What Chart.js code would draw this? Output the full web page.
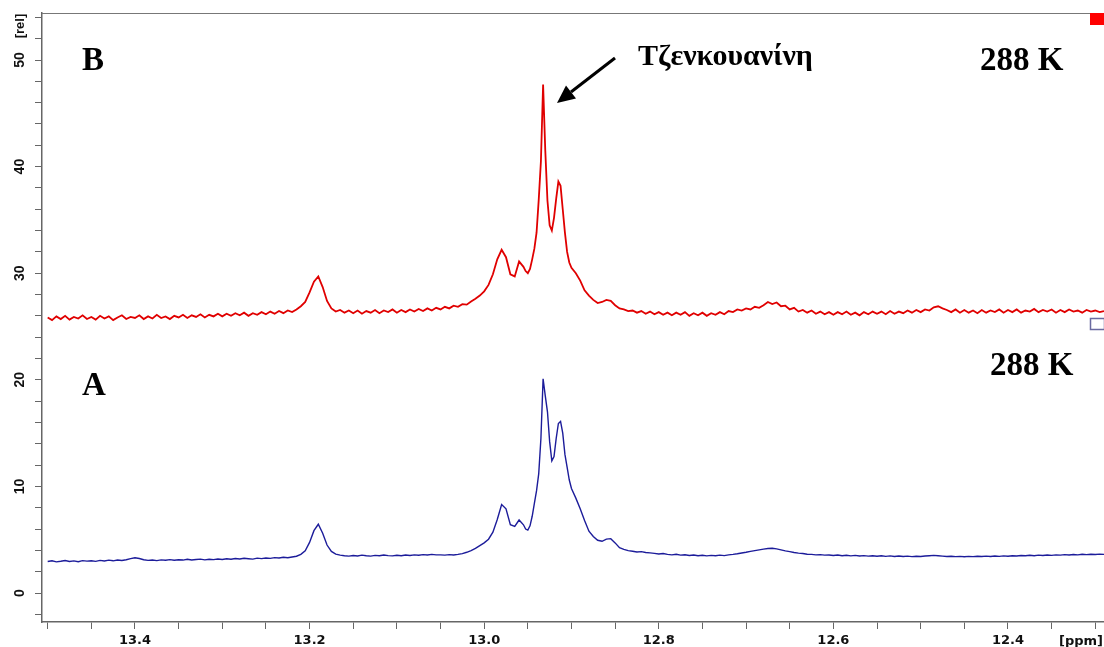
<!DOCTYPE html>
<html>
<head>
<meta charset="utf-8">
<script src="https://cdn.jsdelivr.net/npm/chart.js@4.4.4/dist/chart.umd.min.js"></script>
<style>
  html, body { margin: 0; padding: 0; background: #fff; }
  #wrap { width: 1104px; height: 647px; position: relative; }
</style>
</head>
<body>
<div id="wrap"><canvas id="spec"></canvas></div>
<script>
// chemical shift axis (ppm)
const ppm = [
  13.500, 13.495, 13.490, 13.485, 13.480, 13.475, 13.470, 13.465, 13.460, 13.455,
  13.450, 13.445, 13.440, 13.435, 13.430, 13.425, 13.420, 13.415, 13.410, 13.405,
  13.400, 13.395, 13.390, 13.385, 13.380, 13.375, 13.370, 13.365, 13.360, 13.355,
  13.350, 13.345, 13.340, 13.335, 13.330, 13.325, 13.320, 13.315, 13.310, 13.305,
  13.300, 13.295, 13.290, 13.285, 13.280, 13.275, 13.270, 13.265, 13.260, 13.255,
  13.250, 13.245, 13.240, 13.235, 13.230, 13.225, 13.220, 13.215, 13.210, 13.205,
  13.200, 13.195, 13.190, 13.185, 13.180, 13.175, 13.170, 13.165, 13.160, 13.155,
  13.150, 13.145, 13.140, 13.135, 13.130, 13.125, 13.120, 13.115, 13.110, 13.105,
  13.100, 13.095, 13.090, 13.085, 13.080, 13.075, 13.070, 13.065, 13.060, 13.055,
  13.050, 13.045, 13.040, 13.035, 13.030, 13.025, 13.020, 13.015, 13.010, 13.005,
  13.000, 12.995, 12.990, 12.985, 12.980, 12.975, 12.970, 12.965, 12.960, 12.955,
  12.9525, 12.9500, 12.9475, 12.9450, 12.9425, 12.9400, 12.9375, 12.9350, 12.9325, 12.9300,
  12.9275, 12.9250, 12.9225, 12.9200, 12.9175, 12.9150, 12.9125, 12.9100, 12.9075, 12.9050,
  12.9025,
  12.900, 12.895, 12.890, 12.885, 12.880, 12.875, 12.870, 12.865, 12.860, 12.855,
  12.850, 12.845, 12.840, 12.835, 12.830, 12.825, 12.820, 12.815, 12.810, 12.805,
  12.800, 12.795, 12.790, 12.785, 12.780, 12.775, 12.770, 12.765, 12.760, 12.755,
  12.750, 12.745, 12.740, 12.735, 12.730, 12.725, 12.720, 12.715, 12.710, 12.705,
  12.700, 12.695, 12.690, 12.685, 12.680, 12.675, 12.670, 12.665, 12.660, 12.655,
  12.650, 12.645, 12.640, 12.635, 12.630, 12.625, 12.620, 12.615, 12.610, 12.605,
  12.600, 12.595, 12.590, 12.585, 12.580, 12.575, 12.570, 12.565, 12.560, 12.555,
  12.550, 12.545, 12.540, 12.535, 12.530, 12.525, 12.520, 12.515, 12.510, 12.505,
  12.500, 12.495, 12.490, 12.485, 12.480, 12.475, 12.470, 12.465, 12.460, 12.455,
  12.450, 12.445, 12.440, 12.435, 12.430, 12.425, 12.420, 12.415, 12.410, 12.405,
  12.400, 12.395, 12.390, 12.385, 12.380, 12.375, 12.370, 12.365, 12.360, 12.355,
  12.350, 12.345, 12.340, 12.335, 12.330, 12.325, 12.320, 12.315, 12.310, 12.305,
  12.300, 12.295, 12.290
];

// spectrum A (blue, lower trace)
const specA = [
  2.95, 3.02, 2.92, 2.98, 3.05, 2.96, 3.01, 2.94, 3.04, 2.99,
  3.03, 2.97, 3.06, 3.00, 3.08, 3.02, 3.10, 3.05, 3.12, 3.22,
  3.30, 3.24, 3.12, 3.06, 3.10, 3.04, 3.11, 3.07, 3.13, 3.08,
  3.12, 3.09, 3.16, 3.10, 3.14, 3.18, 3.11, 3.17, 3.13, 3.19,
  3.15, 3.21, 3.17, 3.24, 3.19, 3.26, 3.22, 3.18, 3.27, 3.23,
  3.29, 3.25, 3.32, 3.28, 3.35, 3.31, 3.38, 3.45, 3.62, 3.95,
  4.75, 5.85, 6.45, 5.60, 4.50, 3.90, 3.65, 3.55, 3.50, 3.46,
  3.52, 3.47, 3.55, 3.50, 3.46, 3.53, 3.49, 3.56, 3.51, 3.48,
  3.54, 3.50, 3.57, 3.52, 3.58, 3.54, 3.60, 3.56, 3.62, 3.58,
  3.58, 3.55, 3.60, 3.57, 3.62, 3.70, 3.82, 3.98, 4.18, 4.45,
  4.70, 5.05, 5.70, 6.90, 8.30, 7.90, 6.40, 6.25, 6.85, 6.40,
  6.00, 5.90, 6.30, 7.20, 8.40, 9.60, 11.2, 14.5, 20.1, 18.5,
  17.0, 14.2, 12.4, 12.8, 14.5, 15.9, 16.1, 15.0, 13.0, 11.8,
  10.6,
  9.80, 8.90, 7.90, 6.80, 5.80, 5.30, 4.95, 4.85, 5.05, 5.10,
  4.70, 4.25, 4.10, 3.98, 3.92, 3.85, 3.88, 3.80, 3.76, 3.72,
  3.66, 3.70, 3.62, 3.58, 3.63, 3.55, 3.59, 3.52, 3.57, 3.50,
  3.54, 3.48, 3.53, 3.49, 3.55, 3.51, 3.58, 3.62, 3.68, 3.75,
  3.82, 3.90, 3.98, 4.05, 4.12, 4.18, 4.20, 4.14, 4.05, 3.95,
  3.88, 3.80, 3.74, 3.70, 3.64, 3.62, 3.58, 3.60, 3.55, 3.57,
  3.52, 3.56, 3.50, 3.54, 3.48, 3.53, 3.47, 3.51, 3.46, 3.50,
  3.45, 3.49, 3.44, 3.48, 3.43, 3.47, 3.42, 3.46, 3.41, 3.45,
  3.43, 3.47, 3.50, 3.53, 3.50, 3.46, 3.42, 3.45, 3.41, 3.44,
  3.40, 3.44, 3.41, 3.45, 3.42, 3.46, 3.43, 3.47, 3.44, 3.48,
  3.45, 3.50, 3.47, 3.52, 3.49, 3.54, 3.50, 3.55, 3.52, 3.57,
  3.53, 3.58, 3.55, 3.60, 3.56, 3.61, 3.58, 3.63, 3.60, 3.64,
  3.61, 3.65, 3.62
];

// spectrum B (red, upper trace)
const specB = [
  25.85, 25.60, 25.95, 25.70, 26.00, 25.65, 25.90, 25.75, 26.05, 25.70,
  25.90, 25.65, 26.00, 25.75, 25.95, 25.60, 25.85, 26.05, 25.70, 25.90,
  25.80, 26.05, 25.70, 25.95, 25.75, 26.10, 25.80, 25.95, 25.70, 26.00,
  25.85, 26.10, 25.80, 26.05, 25.90, 26.15, 25.85, 26.10, 25.95, 26.20,
  25.95, 26.20, 26.00, 26.25, 26.05, 26.30, 26.00, 26.25, 26.10, 26.35,
  26.15, 26.40, 26.20, 26.45, 26.25, 26.50, 26.35, 26.60, 26.90, 27.30,
  28.20, 29.20, 29.70, 28.70, 27.40, 26.70, 26.40, 26.55, 26.30, 26.50,
  26.25, 26.50, 26.20, 26.45, 26.30, 26.55, 26.25, 26.50, 26.35, 26.60,
  26.30, 26.55, 26.35, 26.60, 26.40, 26.65, 26.45, 26.70, 26.50, 26.75,
  26.60, 26.85, 26.70, 26.95, 26.85, 27.10, 27.05, 27.35, 27.60, 27.90,
  28.30, 28.90, 29.90, 31.30, 32.20, 31.50, 29.90, 29.70, 31.10, 30.60,
  30.20, 30.00, 30.40, 31.30, 32.30, 33.80, 36.90, 40.50, 47.70, 41.50,
  36.80, 34.50, 34.00, 35.20, 37.00, 38.60, 38.20, 36.00, 33.80, 32.00,
  31.00,
  30.50, 30.00, 29.30, 28.40, 27.90, 27.50, 27.20, 27.30, 27.50, 27.40,
  27.00, 26.70, 26.60, 26.45, 26.50, 26.30, 26.45, 26.20, 26.40, 26.15,
  26.35, 26.10, 26.30, 26.05, 26.30, 26.10, 26.35, 26.00, 26.25, 26.05,
  26.30, 26.00, 26.25, 26.10, 26.35, 26.15, 26.45, 26.35, 26.60, 26.50,
  26.70, 26.60, 26.85, 26.75, 27.00, 27.30, 27.10, 27.25, 26.90, 26.95,
  26.60, 26.75, 26.40, 26.55, 26.30, 26.50, 26.20, 26.40, 26.15, 26.35,
  26.10, 26.35, 26.15, 26.40, 26.10, 26.30, 26.05, 26.35, 26.15, 26.40,
  26.20, 26.40, 26.15, 26.45, 26.20, 26.40, 26.25, 26.50, 26.30, 26.55,
  26.35, 26.60, 26.50, 26.80, 26.90, 26.70, 26.55, 26.35, 26.60, 26.30,
  26.55, 26.30, 26.50, 26.25, 26.55, 26.30, 26.50, 26.35, 26.60, 26.30,
  26.55, 26.35, 26.60, 26.30, 26.50, 26.40, 26.65, 26.35, 26.55, 26.40,
  26.60, 26.30, 26.55, 26.35, 26.60, 26.40, 26.50, 26.30, 26.55, 26.40,
  26.50, 26.35, 26.45
];

const yTickLabels = [0, 10, 20, 30, 40, 50];
const xTickLabels = [13.4, 13.2, 13.0, 12.8, 12.6, 12.4];
const compoundName = "Τζενκουανίνη";
const tempLabel = "288 K";

if (ppm.length !== specA.length || ppm.length !== specB.length) {
  console.error("length mismatch", ppm.length, specA.length, specB.length);
}

const toPoints = (vals) => ppm.map((x, i) => ({ x, y: vals[i] }));

const decorations = {
  id: "decorations",
  afterDraw(chart) {
    const ctx = chart.ctx;
    const { left, top } = chart.chartArea;
    const yScale = chart.scales.y;
    ctx.save();

    // top frame line
    ctx.strokeStyle = "#777";
    ctx.lineWidth = 1;
    ctx.beginPath();
    ctx.moveTo(left, top + 0.5);
    ctx.lineTo(1090, top + 0.5);
    ctx.stroke();

    // rotated y tick labels
    ctx.fillStyle = "#111";
    ctx.font = "bold 14px 'Liberation Sans', Arial, sans-serif";
    ctx.textAlign = "center";
    ctx.textBaseline = "middle";
    yTickLabels.forEach((v) => {
      const py = yScale.getPixelForValue(v);
      ctx.save();
      ctx.translate(20, py);
      ctx.rotate(-Math.PI / 2);
      ctx.fillText(String(v), 0, 0);
      ctx.restore();
    });
    ctx.font = "bold 13px 'Liberation Sans', Arial, sans-serif";
    ctx.save();
    ctx.translate(20, 26);
    ctx.rotate(-Math.PI / 2);
    ctx.fillText("[rel]", 0, 0);
    ctx.restore();

    // x unit
    ctx.font = "bold 13px 'DejaVu Sans', sans-serif";
    ctx.textAlign = "right";
    ctx.textBaseline = "alphabetic";
    ctx.fillText("[ppm]", 1103, 645);

    // markers at the right edge
    ctx.fillStyle = "#f00";
    ctx.fillRect(1090, 13, 14, 12);
    ctx.strokeStyle = "#6a6aa0";
    ctx.lineWidth = 1.5;
    ctx.strokeRect(1090.5, 318.5, 14, 11);

    // annotations
    ctx.fillStyle = "#000";
    ctx.textAlign = "left";
    ctx.font = "bold 33px 'Liberation Serif', 'Times New Roman', serif";
    ctx.fillText("B", 82, 70);
    ctx.fillText("A", 82, 395);
    ctx.fillText(tempLabel, 980, 70);
    ctx.fillText(tempLabel, 990, 375);
    ctx.font = "bold 30px 'Liberation Serif', 'Times New Roman', serif";
    ctx.fillText(compoundName, 638, 65);

    // arrow to the peak
    ctx.strokeStyle = "#000";
    ctx.lineWidth = 3;
    ctx.beginPath();
    ctx.moveTo(615, 58);
    ctx.lineTo(571, 92);
    ctx.stroke();
    ctx.beginPath();
    ctx.moveTo(557, 103);
    ctx.lineTo(576, 98.5);
    ctx.lineTo(566, 85.5);
    ctx.closePath();
    ctx.fill();

    ctx.restore();
  },
};

const axisGrid = {
  display: true,
  drawOnChartArea: false,
  drawTicks: true,
  tickLength: 7,
  color: "#666",
  lineWidth: 1,
};

new Chart(document.getElementById("spec"), {
  type: "line",
  data: {
    datasets: [
      {
        label: "B",
        data: toPoints(specB),
        borderColor: "#e00000",
        borderWidth: 1.8,
        pointRadius: 0,
        tension: 0,
      },
      {
        label: "A",
        data: toPoints(specA),
        borderColor: "#1c1c9a",
        borderWidth: 1.4,
        pointRadius: 0,
        tension: 0,
      },
    ],
  },
  options: {
    responsive: true,
    maintainAspectRatio: false,
    animation: false,
    layout: { padding: { top: 13, left: 0, right: 0, bottom: 0 } },
    plugins: {
      legend: { display: false },
      tooltip: { enabled: false },
    },
    scales: {
      x: {
        type: "linear",
        reverse: true,
        min: 12.29,
        max: 13.5065,
        grid: axisGrid,
        border: { display: true, color: "#666", width: 1.5 },
        ticks: {
          stepSize: 0.05,
          includeBounds: false,
          autoSkip: false,
          maxRotation: 0,
          minRotation: 0,
          padding: 4,
          color: "#111",
          font: { family: "'DejaVu Sans', sans-serif", weight: "bold", size: 13 },
          callback: (v) => {
            const hit = xTickLabels.find((t) => Math.abs(t - v) < 1e-6);
            return hit !== undefined ? hit.toFixed(1) : "";
          },
        },
        afterFit: (scale) => { scale.height = 25; },
      },
      y: {
        type: "linear",
        min: -2.72,
        max: 54.41,
        grid: axisGrid,
        border: { display: true, color: "#666", width: 1.5 },
        ticks: {
          stepSize: 2,
          includeBounds: false,
          autoSkip: false,
          callback: () => "",
        },
        afterFit: (scale) => { scale.width = 42; },
      },
    },
  },
  plugins: [decorations],
});
</script>
</body>
</html>
